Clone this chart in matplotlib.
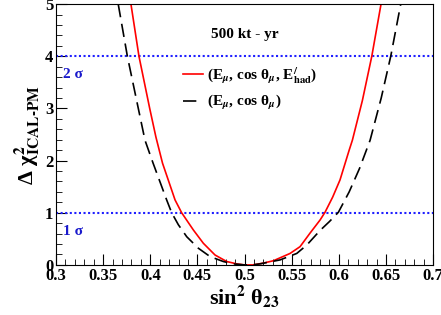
import matplotlib
matplotlib.use("Agg")
import matplotlib.pyplot as plt
from matplotlib.ticker import MultipleLocator

plt.rcParams['font.family'] = ['Liberation Serif', 'DejaVu Serif']
plt.rcParams['font.weight'] = 'bold'
plt.rcParams['mathtext.fontset'] = 'stix'

# red: (E_mu, cos theta_mu, E'_had)
x_had = [0.3795, 0.388, 0.3994, 0.406, 0.413, 0.4263, 0.4333, 0.4457, 0.4563, 0.4687,
         0.4811, 0.4917, 0.500, 0.509, 0.520, 0.5306, 0.5483, 0.5589, 0.5695, 0.5801,
         0.5854, 0.5935, 0.6013, 0.611, 0.6144, 0.625, 0.635, 0.6448]
y_had = [5.0, 4.0, 3.0, 2.45, 1.95, 1.245, 1.0, 0.67, 0.415, 0.19,
         0.065, 0.02, 0.0, 0.0, 0.035, 0.08, 0.22, 0.35, 0.61, 0.86,
         1.01, 1.3, 1.63, 2.2, 2.39, 3.15, 4.0, 5.0]

# black dashed: (E_mu, cos theta_mu)
x_mu = [0.366, 0.3757, 0.3873, 0.3944, 0.403, 0.4174, 0.4227, 0.4298, 0.4387, 0.451,
        0.4634, 0.4775, 0.4881, 0.500, 0.508, 0.5164, 0.5377, 0.5554, 0.566, 0.5801,
        0.590, 0.5996, 0.611, 0.622, 0.6332, 0.645, 0.6551, 0.6657]
y_mu = [5.0, 4.0, 3.0, 2.39, 1.95, 1.245, 1.0, 0.77, 0.54, 0.32,
        0.16, 0.065, 0.02, 0.0, 0.0, 0.02, 0.096, 0.22, 0.38, 0.66,
        0.83, 1.01, 1.40, 1.85, 2.39, 3.2, 4.0, 5.0]

sigma_levels = [1, 4]
sigma_labels = ['1 σ', '2 σ']

fig = plt.figure(figsize=(4.41, 3.15), dpi=100)
ax = fig.add_axes([0.127, 0.159, 0.855, 0.828])

for lev in sigma_levels:
    ax.axhline(lev, color='#2020ff', linestyle=(0, (1, 1.2)), linewidth=1.5)
for lev, lab in zip(sigma_levels, sigma_labels):
    ax.text(0.307, lev - 0.42, lab, color='#1a1acc', fontsize=11, fontweight='bold')

ax.plot(x_had, y_had, color='red', linewidth=1.2,
        label="(E$_{\\mu}$, cos θ$_{\\mu}$, E$^{/}_{\\mathrm{had}}$)")
ax.plot(x_mu, y_mu, color='black', linewidth=1.2, dashes=(8, 4),
        label="(E$_{\\mu}$, cos θ$_{\\mu}$)")

ax.text(0.5, 4.35, '500 kt - yr', fontsize=11, fontweight='bold', ha='center')

ax.legend(loc='upper left', bbox_to_anchor=(0.3, 0.82), frameon=False,
          fontsize=11, handlelength=1.3, handletextpad=0.3, labelspacing=0.5)

ax.set_xlim(0.3, 0.7)
ax.set_ylim(0, 5)
ax.xaxis.set_major_locator(MultipleLocator(0.05))
ax.xaxis.set_minor_locator(MultipleLocator(0.01))
ax.yaxis.set_major_locator(MultipleLocator(1))
ax.yaxis.set_minor_locator(MultipleLocator(0.2))
ax.set_xticks([0.3, 0.35, 0.4, 0.45, 0.5, 0.55, 0.6, 0.65, 0.7])
ax.set_xticklabels(['0.3', '0.35', '0.4', '0.45', '0.5', '0.55', '0.6', '0.65', '0.7'])
ax.tick_params(which='both', direction='in', top=False, right=False, labelsize=12, pad=2)
ax.tick_params(which='major', length=8)
ax.tick_params(which='minor', length=4)
for lab in ax.get_xticklabels() + ax.get_yticklabels():
    lab.set_fontweight('bold')

ax.set_xlabel('sin$^{2}$ θ$_{23}$', fontsize=16, fontweight='bold', labelpad=0)
ax.set_ylabel('Δ χ$^{2}_{\\mathbf{ICAL\\text{-}PM}}$', fontsize=16, fontweight='bold', labelpad=2)

fig.savefig('out.png', dpi=100)
